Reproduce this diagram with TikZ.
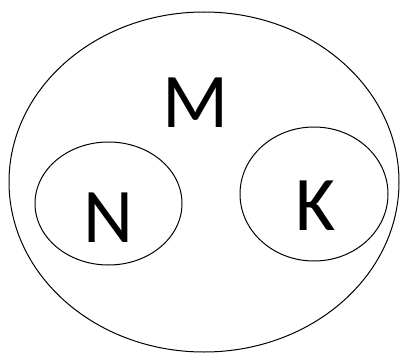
\documentclass[tikz,border=0pt]{standalone}
\usepackage{fontspec}
\setmainfont{Carlito}
\usetikzlibrary{shapes.geometric}

\begin{document}
\begin{tikzpicture}[
    x=0.75pt, y=-0.75pt,
    set/.style={draw, ellipse, line width=0.75pt, inner sep=0pt},
    letter/.style={anchor=base, inner sep=0pt, font=\fontsize{58}{60}\selectfont}
]
\useasboundingbox (0,0) rectangle (403,353);
% sets
\node[set, minimum width=390pt*0.75, minimum height=340pt*0.75] (M) at (204,182) {};
\node[set, minimum width=147pt*0.75, minimum height=123pt*0.75] (N) at (108.5,203.5) {};
\node[set, minimum width=148pt*0.75, minimum height=134pt*0.75] (K) at (314,194) {};
% labels
\node[letter] (Mlabel) at (195.5,127) {M};
\node[letter] (Nlabel) at (108.5,242) {N};
\node[letter] (Klabel) at (316,230) {K};
\end{tikzpicture}
\end{document}
